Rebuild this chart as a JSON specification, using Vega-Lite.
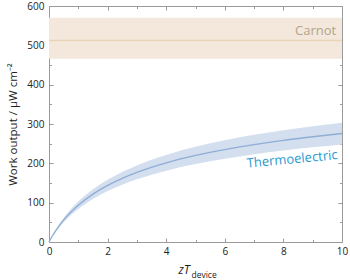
{
  "$schema": "https://vega.github.io/schema/vega-lite/v6.json",
  "width": 293,
  "height": 236,
  "autosize": "none",
  "padding": {"left": 49, "top": 6, "right": 8, "bottom": 38},
  "config": {
    "view": {"stroke": null},
    "font": "Open Sans",
    "axis": {"domainColor": "#9a9a9a", "tickColor": "#9a9a9a", "labelColor": "#222", "labelFont": "Open Sans", "labelFontSize": 10, "titleFont": "Open Sans", "titleFontWeight": "normal", "titleColor": "#222", "grid": false}
  },
  "datasets": {
    "carnot": [{"x0": 0, "x1": 10, "lo": 466, "hi": 570, "mid": 512}],
    "thermo": [
      {"zt": 0, "p": 0, "lo": 0, "hi": 0},
      {"zt": 0.1, "p": 13.3, "lo": 12.0, "hi": 14.6},
      {"zt": 0.25, "p": 31.0, "lo": 27.9, "hi": 34.1},
      {"zt": 0.5, "p": 55.8, "lo": 50.2, "hi": 61.4},
      {"zt": 0.75, "p": 76.3, "lo": 68.7, "hi": 83.9},
      {"zt": 1, "p": 93.6, "lo": 84.2, "hi": 103.0},
      {"zt": 1.5, "p": 121.8, "lo": 109.6, "hi": 134.0},
      {"zt": 2, "p": 143.9, "lo": 129.5, "hi": 158.3},
      {"zt": 2.5, "p": 161.9, "lo": 145.7, "hi": 178.1},
      {"zt": 3, "p": 177.0, "lo": 159.3, "hi": 194.7},
      {"zt": 4, "p": 201.2, "lo": 181.1, "hi": 221.3},
      {"zt": 5, "p": 220.0, "lo": 198.0, "hi": 242.0},
      {"zt": 6, "p": 235.1, "lo": 211.6, "hi": 258.6},
      {"zt": 7, "p": 247.7, "lo": 222.9, "hi": 272.5},
      {"zt": 8, "p": 258.4, "lo": 232.6, "hi": 284.2},
      {"zt": 9, "p": 267.6, "lo": 240.8, "hi": 294.4},
      {"zt": 10, "p": 275.8, "lo": 248.2, "hi": 303.4}
    ],
    "labels": [
      {"zt": 9.8, "v": 537, "t": "Carnot", "c": "carnot"},
      {"zt": 8.3, "v": 210, "t": "Thermoelectric", "c": "thermo"}
    ]
  },
  "layer": [
    {
      "data": {"name": "carnot"},
      "mark": {"type": "rect", "color": "#f3e8db"},
      "encoding": {
        "x": {"field": "x0", "type": "quantitative", "scale": {"domain": [0, 10], "nice": false, "zero": false},
          "axis": {"orient": "bottom", "values": [0, 2, 4, 6, 8, 10], "ticks": false, "domain": true, "labelPadding": 4, "labelFlush": false,
            "title": "zT", "titleFontStyle": "italic", "titleFontSize": 12, "titleAlign": "left", "titleAnchor": null, "titleX": 129, "titleY": 31, "titleBaseline": "alphabetic"}},
        "x2": {"field": "x1"},
        "y": {"field": "lo", "type": "quantitative", "scale": {"domain": [0, 600], "nice": false},
          "axis": {"orient": "left", "values": [0, 100, 200, 300, 400, 500, 600], "ticks": false, "domain": true, "labelPadding": 5,
            "title": "Work output / µW cm⁻²", "titleFontSize": 11.5, "titlePadding": 8}},
        "y2": {"field": "hi"}
      }
    },
    {
      "data": {"name": "carnot"},
      "mark": {"type": "rule", "color": "#ead3b6", "strokeWidth": 1.5},
      "encoding": {
        "x": {"field": "x0", "type": "quantitative",
          "axis": {"orient": "bottom", "values": [0, 2, 4, 6, 8, 10], "tickSize": -4, "labels": false, "domain": false,
            "title": "device", "titleFontSize": 8.5, "titleAlign": "left", "titleAnchor": null, "titleX": 142, "titleY": 35, "titleBaseline": "alphabetic"}},
        "x2": {"field": "x1"},
        "y": {"field": "mid", "type": "quantitative",
          "axis": {"orient": "left", "values": [0, 100, 200, 300, 400, 500, 600], "tickSize": -4, "labels": false, "domain": false, "title": null}}
      }
    },
    {
      "data": {"name": "thermo"},
      "mark": {"type": "area", "color": "#d3deef", "interpolate": "monotone"},
      "encoding": {
        "x": {"field": "zt", "type": "quantitative",
          "axis": {"orient": "bottom", "values": [1, 3, 5, 7, 9], "tickSize": -2.5, "labels": false, "domain": false, "title": null}},
        "y": {"field": "lo", "type": "quantitative",
          "axis": {"orient": "left", "values": [50, 150, 250, 350, 450, 550], "tickSize": -2.5, "labels": false, "domain": false, "title": null}},
        "y2": {"field": "hi"}
      }
    },
    {
      "data": {"name": "thermo"},
      "mark": {"type": "line", "color": "#8eaed6", "strokeWidth": 1.3, "interpolate": "monotone"},
      "encoding": {
        "x": {"field": "zt", "type": "quantitative",
          "axis": {"orient": "top", "values": [0, 2, 4, 6, 8, 10], "tickSize": -4, "labels": false, "domain": true, "title": null}},
        "y": {"field": "p", "type": "quantitative",
          "axis": {"orient": "right", "values": [0, 100, 200, 300, 400, 500, 600], "tickSize": -4, "labels": false, "domain": true, "title": null}}
      }
    },
    {
      "data": {"name": "labels"},
      "transform": [{"filter": "datum.c === 'carnot'"}],
      "mark": {"type": "text", "align": "right", "baseline": "middle", "fontSize": 13, "color": "#b3a48e"},
      "encoding": {
        "x": {"field": "zt", "type": "quantitative",
          "axis": {"orient": "top", "values": [1, 3, 5, 7, 9], "tickSize": -2.5, "labels": false, "domain": false, "title": null}},
        "y": {"field": "v", "type": "quantitative",
          "axis": {"orient": "right", "values": [50, 150, 250, 350, 450, 550], "tickSize": -2.5, "labels": false, "domain": false, "title": null}},
        "text": {"field": "t"}
      }
    },
    {
      "data": {"name": "labels"},
      "transform": [{"filter": "datum.c === 'thermo'"}],
      "mark": {"type": "text", "align": "center", "baseline": "middle", "fontSize": 13, "color": "#2c9ad0", "angle": 354.5},
      "encoding": {
        "x": {"field": "zt", "type": "quantitative", "axis": null},
        "y": {"field": "v", "type": "quantitative", "axis": null},
        "text": {"field": "t"}
      }
    }
  ],
  "resolve": {"axis": {"x": "independent", "y": "independent"}}
}
